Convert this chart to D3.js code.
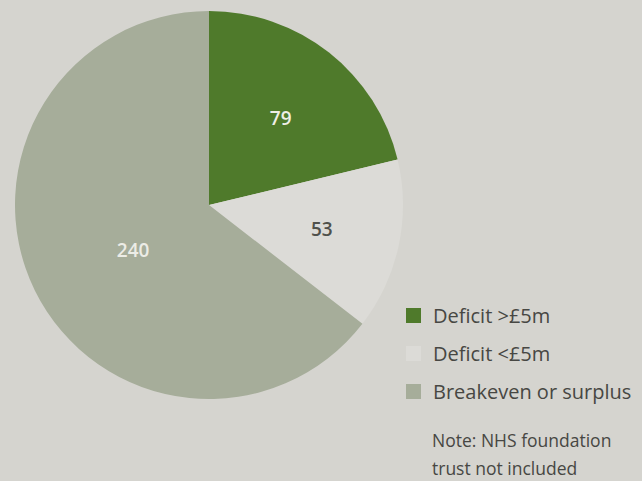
<!DOCTYPE html>
<html>
<head>
<meta charset="utf-8">
<script src="https://cdn.jsdelivr.net/npm/d3@7"></script>
<style>
  html, body { margin: 0; padding: 0; background: #d5d4cf; }
  svg { display: block; }
</style>
</head>
<body>
<svg id="chart" width="642" height="481"></svg>
<script>
// Trust financial position counts
const categories = ["Deficit >£5m", "Deficit <£5m", "Breakeven or surplus"];
const values = [79, 53, 240];
const colors = ["#4f7a2b", "#dcdbd7", "#a6ad9a"];
const labelColors = ["#eeeee6", "#50514b", "#ececE6"];
const noteLines = ["Note: NHS foundation", "trust not included"];

const svg = d3.select("#chart");
const W = 642, H = 481;
const cx = 209, cy = 205, r = 194;

svg.append("rect").attr("width", W).attr("height", H).attr("fill", "#d5d4cf");

const data = categories.map((c, i) => ({ name: c, value: values[i], color: colors[i], lc: labelColors[i] }));

const pie = d3.pie().value(d => d.value).sort(null);
const arc = d3.arc().innerRadius(0).outerRadius(r);
const arcs = pie(data);

const g = svg.append("g").attr("transform", `translate(${cx},${cy})`);
g.selectAll("path").data(arcs).join("path")
  .attr("d", arc)
  .attr("fill", d => d.data.color);

// value labels: polar offsets (angle shift, radius fraction) from each slice's mid-angle
const labelPos = [[0.024, 0.58], [0.0, 0.595], [-0.079, 0.455]];
g.selectAll("text").data(arcs).join("text")
  .attr("transform", (d, i) => {
    const a = (d.startAngle + d.endAngle) / 2 + labelPos[i][0];
    const rr = r * labelPos[i][1];
    return `translate(${Math.sin(a) * rr},${-Math.cos(a) * rr})`;
  })
  .attr("text-anchor", "middle")
  .attr("dy", "0.35em")
  .attr("font-family", "'Open Sans', sans-serif")
  .attr("font-weight", 600)
  .attr("font-size", 19)
  .attr("fill", d => d.data.lc)
  .text(d => d.data.value);

// legend
const legend = svg.append("g").attr("transform", "translate(406,308)");
const rowH = 38;
const rows = legend.selectAll("g").data(data).join("g")
  .attr("transform", (d, i) => `translate(0,${i * rowH})`);
rows.append("rect")
  .attr("width", 15).attr("height", 15)
  .attr("fill", d => d.color);
rows.append("text")
  .attr("x", 27).attr("y", 7.5).attr("dy", "0.35em")
  .attr("font-family", "'Open Sans', sans-serif")
  .attr("font-size", 20)
  .attr("fill", "#474743")
  .text(d => d.name);

svg.append("g").selectAll("text").data(noteLines).join("text")
  .attr("x", 432)
  .attr("y", (d, i) => 447 + i * 28)
  .attr("font-family", "'Open Sans', sans-serif")
  .attr("font-size", 17.5)
  .attr("fill", "#474743")
  .text(d => d);
</script>
</body>
</html>
